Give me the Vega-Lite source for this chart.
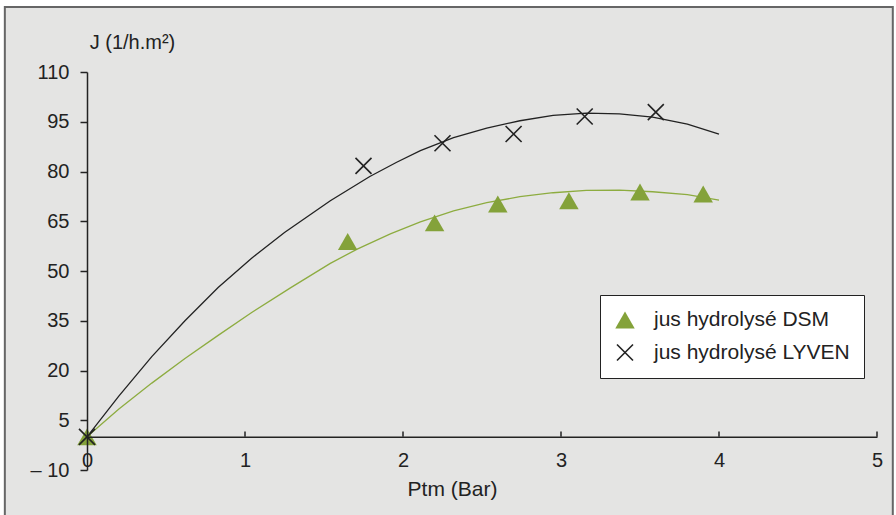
{
  "$schema": "https://vega.github.io/schema/vega-lite/v6.json",
  "width": 790,
  "height": 398,
  "autosize": {"type": "none"},
  "padding": {"left": 87, "top": 72, "right": 19, "bottom": 45},
  "background": "#ffffff",
  "config": {
    "view": {"stroke": null},
    "font": "Liberation Sans",
    "axis": {
      "labelFont": "Liberation Sans",
      "titleFont": "Liberation Sans",
      "labelFontSize": 20,
      "titleFontSize": 20,
      "titleFontWeight": "normal",
      "labelColor": "#222222",
      "titleColor": "#222222",
      "domainColor": "#222222",
      "tickColor": "#222222",
      "domainWidth": 1.5,
      "tickWidth": 1.5,
      "grid": false
    },
    "legend": {
      "labelFont": "Liberation Sans",
      "labelFontSize": 21,
      "labelColor": "#222222",
      "labelLimit": 400
    }
  },
  "datasets": {
    "frame": [{"x0": -0.52, "x1": 5.1, "y0": 129.6, "y1": -30}],
    "xticks": [{"Ptm": 1}, {"Ptm": 2}, {"Ptm": 3}, {"Ptm": 4}, {"Ptm": 5}],
    "points": [
      {"Ptm": 0, "J": 0, "serie": "jus hydrolysé DSM"},
      {"Ptm": 1.65, "J": 58.9, "serie": "jus hydrolysé DSM"},
      {"Ptm": 2.2, "J": 64.5, "serie": "jus hydrolysé DSM"},
      {"Ptm": 2.6, "J": 70.2, "serie": "jus hydrolysé DSM"},
      {"Ptm": 3.05, "J": 71.2, "serie": "jus hydrolysé DSM"},
      {"Ptm": 3.5, "J": 73.8, "serie": "jus hydrolysé DSM"},
      {"Ptm": 3.9, "J": 73.2, "serie": "jus hydrolysé DSM"},
      {"Ptm": 0, "J": 0, "serie": "jus hydrolysé LYVEN"},
      {"Ptm": 1.75, "J": 81.7, "serie": "jus hydrolysé LYVEN"},
      {"Ptm": 2.25, "J": 88.5, "serie": "jus hydrolysé LYVEN"},
      {"Ptm": 2.7, "J": 91.3, "serie": "jus hydrolysé LYVEN"},
      {"Ptm": 3.15, "J": 96.6, "serie": "jus hydrolysé LYVEN"},
      {"Ptm": 3.6, "J": 97.9, "serie": "jus hydrolysé LYVEN"}
    ],
    "curveDSM": [
      {"Ptm": 0, "J": 0}, {"Ptm": 0.2, "J": 8.3}, {"Ptm": 0.41, "J": 16.2},
      {"Ptm": 0.62, "J": 23.6}, {"Ptm": 0.83, "J": 30.6}, {"Ptm": 1.04, "J": 37.4},
      {"Ptm": 1.29, "J": 45.0}, {"Ptm": 1.54, "J": 52.3}, {"Ptm": 1.71, "J": 56.6},
      {"Ptm": 1.92, "J": 61.2}, {"Ptm": 2.11, "J": 64.8}, {"Ptm": 2.32, "J": 68.1},
      {"Ptm": 2.53, "J": 70.6}, {"Ptm": 2.74, "J": 72.4}, {"Ptm": 2.95, "J": 73.6},
      {"Ptm": 3.16, "J": 74.3}, {"Ptm": 3.37, "J": 74.4}, {"Ptm": 3.58, "J": 73.9},
      {"Ptm": 3.8, "J": 73.0}, {"Ptm": 4.0, "J": 71.4}
    ],
    "curveLYVEN": [
      {"Ptm": 0, "J": 0}, {"Ptm": 0.2, "J": 12.2}, {"Ptm": 0.41, "J": 24.2},
      {"Ptm": 0.62, "J": 35.0}, {"Ptm": 0.83, "J": 45.0}, {"Ptm": 1.04, "J": 53.8},
      {"Ptm": 1.25, "J": 61.6}, {"Ptm": 1.54, "J": 71.2}, {"Ptm": 1.79, "J": 78.5},
      {"Ptm": 1.96, "J": 82.8}, {"Ptm": 2.11, "J": 86.3}, {"Ptm": 2.32, "J": 90.2},
      {"Ptm": 2.53, "J": 93.1}, {"Ptm": 2.74, "J": 95.3}, {"Ptm": 2.95, "J": 96.9},
      {"Ptm": 3.16, "J": 97.6}, {"Ptm": 3.37, "J": 97.4}, {"Ptm": 3.58, "J": 96.4},
      {"Ptm": 3.8, "J": 94.3}, {"Ptm": 4.0, "J": 91.3}
    ]
  },
  "layer": [
    {
      "data": {"name": "frame"},
      "mark": {"type": "rect", "fill": "#e4e4e3", "stroke": "#666666", "strokeWidth": 2, "clip": false},
      "encoding": {
        "x": {"field": "x0", "type": "quantitative", "scale": {"domain": [0, 5], "nice": false, "zero": false}},
        "x2": {"field": "x1"},
        "y": {"field": "y0", "type": "quantitative", "scale": {"domain": [-10, 110], "nice": false, "zero": false}},
        "y2": {"field": "y1"}
      }
    },
    {
      "data": {"name": "xticks"},
      "mark": {"type": "rule", "color": "#222222", "strokeWidth": 1.5},
      "encoding": {
        "x": {"field": "Ptm", "type": "quantitative"},
        "y": {"datum": 0, "type": "quantitative"},
        "y2": {"datum": 1.6}
      }
    },
    {
      "data": {"name": "curveLYVEN"},
      "mark": {"type": "line", "color": "#222222", "strokeWidth": 1.3},
      "encoding": {
        "x": {"field": "Ptm", "type": "quantitative"},
        "y": {"field": "J", "type": "quantitative"}
      }
    },
    {
      "data": {"name": "curveDSM"},
      "mark": {"type": "line", "color": "#8dac40", "strokeWidth": 1.3},
      "encoding": {
        "x": {"field": "Ptm", "type": "quantitative"},
        "y": {"field": "J", "type": "quantitative"}
      }
    },
    {
      "data": {"name": "points"},
      "mark": {"type": "point", "filled": true, "opacity": 1, "strokeWidth": 1.6},
      "encoding": {
        "x": {
          "field": "Ptm", "type": "quantitative",
          "axis": {
            "title": "Ptm (Bar)",
            "values": [0, 1, 2, 3, 4, 5],
            "format": "d",
            "offset": -33.2,
            "ticks": false,
            "tickSize": 0,
            "labelPadding": 14,
            "labelBaseline": "top",
            "labelFlush": false,
            "titleFontSize": 21,
            "titleX": 365,
            "titleAlign": "center",
            "titleY": 53,
            "titleBaseline": "middle",
            "zindex": 1
          }
        },
        "y": {
          "field": "J", "type": "quantitative",
          "axis": {
            "title": "J (1/h.m²)",
            "values": [-10, 5, 20, 35, 50, 65, 80, 95, 110],
            "format": "d",
            "labelExpr": "datum.value < 0 ? '– 10' : datum.label",
            "tickSize": 7,
            "labelPadding": 11,
            "labelFlush": false,
            "titleAngle": 0,
            "titleAlign": "center",
            "titleBaseline": "middle",
            "titleX": 45,
            "titleY": -30,
            "zindex": 1
          }
        },
        "shape": {
          "field": "serie", "type": "nominal",
          "scale": {"domain": ["jus hydrolysé DSM", "jus hydrolysé LYVEN"], "range": ["triangle-up", "M-1,-1L1,1M-1,1L1,-1"]},
          "legend": {
            "title": null,
            "orient": "none",
            "legendX": 513,
            "legendY": 223,
            "fillColor": "#ffffff",
            "strokeColor": "#222222",
            "padding": 14,
            "symbolSize": 380,
            "symbolStrokeWidth": 1.6,
            "labelOffset": 18,
            "rowPadding": 9
          }
        },
        "color": {
          "field": "serie", "type": "nominal",
          "scale": {"domain": ["jus hydrolysé DSM", "jus hydrolysé LYVEN"], "range": ["#84a23a", "#222222"]},
          "legend": {
            "title": null,
            "orient": "none",
            "legendX": 513,
            "legendY": 223,
            "fillColor": "#ffffff",
            "strokeColor": "#222222",
            "padding": 14,
            "symbolSize": 380,
            "symbolStrokeWidth": 1.6,
            "labelOffset": 18,
            "rowPadding": 9
          }
        },
        "stroke": {
          "field": "serie", "type": "nominal",
          "scale": {"domain": ["jus hydrolysé DSM", "jus hydrolysé LYVEN"], "range": ["rgba(0,0,0,0)", "#222222"]},
          "legend": {
            "title": null,
            "orient": "none",
            "legendX": 513,
            "legendY": 223,
            "fillColor": "#ffffff",
            "strokeColor": "#222222",
            "padding": 14,
            "symbolSize": 380,
            "symbolStrokeWidth": 1.6,
            "labelOffset": 18,
            "rowPadding": 9
          }
        },
        "size": {
          "field": "serie", "type": "nominal",
          "scale": {"domain": ["jus hydrolysé DSM", "jus hydrolysé LYVEN"], "range": [380, 256]},
          "legend": null
        }
      }
    }
  ]
}
